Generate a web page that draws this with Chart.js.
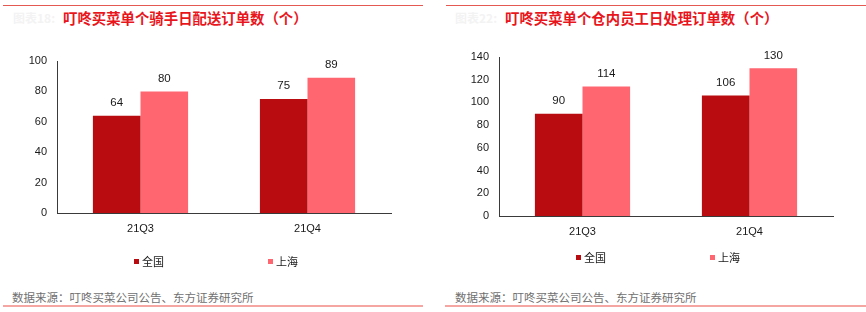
<!DOCTYPE html>
<html>
<head>
<meta charset="utf-8">
<script src="https://cdn.jsdelivr.net/npm/chart.js@4.4.1/dist/chart.umd.min.js"></script>
<style>
  html,body{margin:0;padding:0;background:#fff;}
  body{width:866px;height:312px;position:relative;overflow:hidden;font-family:"Noto Sans CJK SC","Noto Sans",sans-serif;}
  .abs{position:absolute;}
  .topline{height:1px;background:#e45a53;}
  .botline{height:2px;background:#f6a6a2;}
  .title{font-size:14.4px;font-weight:bold;color:#e8161c;white-space:nowrap;line-height:20px;}
  .pre{font-size:12px;font-weight:bold;color:#f3f3f3;white-space:nowrap;line-height:20px;}
  .src{font-size:11.5px;color:#707070;white-space:nowrap;line-height:16px;}
  canvas{position:absolute;top:0;}
</style>
</head>
<body>
<div class="abs topline" style="left:3px;top:5px;width:420px;"></div>
<div class="abs topline" style="left:446px;top:5px;width:420px;"></div>
<div class="abs pre" style="left:13px;top:8px;">图表18:</div>
<div class="abs title" style="left:63px;top:8px;">叮咚买菜单个骑手日配送订单数（个）</div>
<div class="abs pre" style="left:455px;top:8px;">图表22:</div>
<div class="abs title" style="left:505px;top:8px;">叮咚买菜单个仓内员工日处理订单数（个）</div>
<div class="abs src" style="left:12px;top:289px;">数据来源：叮咚买菜公司公告、东方证券研究所</div>
<div class="abs src" style="left:455px;top:289px;">数据来源：叮咚买菜公司公告、东方证券研究所</div>
<div class="abs botline" style="left:3px;top:305px;width:420px;"></div>
<div class="abs botline" style="left:445px;top:305px;width:421px;"></div>

<canvas id="c1" width="433" height="312" style="left:0;"></canvas>
<canvas id="c2" width="433" height="312" style="left:433px;"></canvas>

<script>
const categories = ['21Q3', '21Q4'];
const seriesNames = ['全国', '上海'];
const riderNational = [64, 75];
const riderShanghai = [80, 89];
const staffNational = [90, 106];
const staffShanghai = [114, 130];
const riderTicks = { max: 100, step: 20 };
const staffTicks = { max: 140, step: 20 };

const DARK = '#b80c10';
const LIGHT = '#ff6670';
const NUM_FONT = '"Liberation Sans", Arial, sans-serif';

const valueLabels = {
  id: 'valueLabels',
  afterDatasetsDraw(chart) {
    const ctx = chart.ctx;
    ctx.save();
    ctx.font = '11.5px ' + NUM_FONT;
    ctx.fillStyle = '#1a1a1a';
    ctx.textAlign = 'center';
    ctx.textBaseline = 'middle';
    chart.data.datasets.forEach((ds, i) => {
      chart.getDatasetMeta(i).data.forEach((el, j) => {
        ctx.fillText(String(ds.data[j]), el.x, el.y - 13);
      });
    });
    ctx.restore();
  }
};

const customLegend = {
  id: 'customLegend',
  afterDraw(chart, args, opts) {
    const ctx = chart.ctx;
    const a = chart.chartArea;
    ctx.save();
    ctx.font = '11px "Noto Sans CJK SC", sans-serif';
    ctx.textBaseline = 'middle';
    ctx.textAlign = 'left';
    chart.data.datasets.forEach((ds, i) => {
      const x = a.left + opts.offsets[i];
      const y = a.bottom + opts.dy;
      ctx.fillStyle = ds.backgroundColor;
      ctx.fillRect(x, y - 3, 5, 5);
      ctx.fillStyle = '#1a1a1a';
      ctx.fillText(ds.label, x + 8, y);
    });
    ctx.restore();
  }
};

function makeChart(id, nat, sh, ticks, pad, yWidth, legendDy) {
  return new Chart(document.getElementById(id), {
    type: 'bar',
    data: {
      labels: categories,
      datasets: [
        { label: seriesNames[0], data: nat, backgroundColor: DARK },
        { label: seriesNames[1], data: sh, backgroundColor: LIGHT }
      ]
    },
    options: {
      responsive: false,
      animation: false,
      devicePixelRatio: 1,
      layout: { padding: pad },
      datasets: { bar: { categoryPercentage: 0.57, barPercentage: 1.0 } },
      plugins: {
        legend: { display: false },
        tooltip: { enabled: false },
        customLegend: { offsets: [77, 211], dy: legendDy }
      },
      scales: {
        x: {
          grid: { display: false, drawTicks: false },
          border: { display: true, color: '#3a3a3a', width: 1 },
          ticks: { padding: 9, color: '#1a1a1a', font: { family: NUM_FONT, size: 11 } },
          afterFit(s) { s.height = 30; }
        },
        y: {
          min: 0, max: ticks.max,
          grid: { display: false, drawTicks: false },
          border: { display: true, color: '#3a3a3a', width: 1 },
          ticks: { stepSize: ticks.step, padding: 10, color: '#1a1a1a', font: { family: NUM_FONT, size: 11 } },
          afterFit(s) { s.width = yWidth; }
        }
      }
    },
    plugins: [valueLabels, customLegend]
  });
}

makeChart('c1', riderNational, riderShanghai, riderTicks,
  { top: 61, left: 0, right: 42, bottom: 69 }, 57, 49);
makeChart('c2', staffNational, staffShanghai, staffTicks,
  { top: 57, left: 0, right: 33, bottom: 66 }, 66, 42);
</script>
</body>
</html>
